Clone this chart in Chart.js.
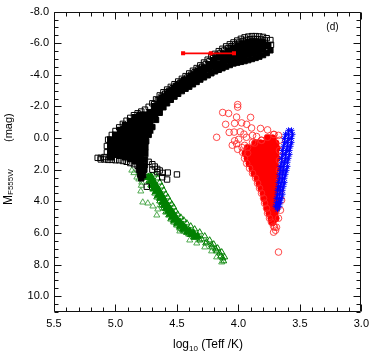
<!DOCTYPE html>
<html><head><meta charset="utf-8">
<script src="https://cdn.jsdelivr.net/npm/chart.js@4.4.0/dist/chart.umd.min.js"></script>
<style>html,body{margin:0;padding:0;background:#fff;}canvas{display:block;}</style>
</head><body>
<canvas id="c" width="374" height="351"></canvas>
<script>
// ---- tick values ----
const xTicks = [5.5, 5.0, 4.5, 4.0, 3.5, 3.0];
const yTicks = [-8, -6, -4, -2, 0, 2, 4, 6, 8, 10];

// ---- black open squares: upper edge of the band, blob bottom, scattered ----
const blackOpen = [
 [3.74,-6.20],[3.77,-6.32],[3.80,-6.40],[3.83,-6.43],[3.86,-6.45],[3.89,-6.45],[3.92,-6.42],[3.95,-6.37],
 [3.98,-6.28],[4.01,-6.17],[4.04,-6.05],[4.07,-5.93],[4.10,-5.80],[4.13,-5.65],[4.16,-5.50],[4.19,-5.33],
 [4.22,-5.15],[4.25,-4.96],[4.28,-4.78],[4.31,-4.60],[4.34,-4.43],[4.37,-4.26],[4.40,-4.09],[4.43,-3.92],
 [4.46,-3.75],[4.49,-3.58],[4.52,-3.41],[4.55,-3.24],[4.58,-3.07],[4.61,-2.90],[4.64,-2.70],[4.67,-2.45],
 [4.70,-2.20],[4.73,-1.98],[4.76,-1.80],[4.79,-1.68],[4.82,-1.57],[4.85,-1.45],[4.88,-1.28],[4.91,-1.10],
 [4.94,-0.90],[4.97,-0.68],[5.00,-0.45],[5.03,-0.20],[5.06,0.10],[5.07,0.50],[5.07,0.90],[5.09,1.20],
 [5.12,1.25],[5.145,1.25],[3.735,-5.90],
 [3.785,-6.18],[3.815,-6.24],[3.845,-6.26],[3.875,-6.27],[3.905,-6.25],[3.935,-6.21],[3.965,-6.14],
 [3.995,-6.04],[4.025,-5.93],[4.055,-5.81],[4.085,-5.68],[4.115,-5.54],[4.145,-5.39],[4.175,-5.23],
 [4.205,-5.06],[4.235,-4.87],[4.265,-4.69],[4.295,-4.51],[4.325,-4.34],[4.355,-4.17],[4.385,-4.00],
 [4.415,-3.83],[4.445,-3.66],[4.475,-3.49],[4.505,-3.32],[4.535,-3.15],[4.565,-2.98],[4.595,-2.81],
 [4.625,-2.62],[4.655,-2.40],[4.685,-2.15],
 [5.12,1.35],[5.09,1.35],[5.06,1.38],[5.03,1.38],[5.00,1.40],[4.97,1.40],[4.94,1.45],[4.91,1.50],
 [4.88,1.58],[4.85,1.65],[4.82,1.75],
 [4.73,1.50],[4.70,1.65],[4.68,1.80],[4.66,1.95],[4.64,2.05],[4.615,2.20],[4.575,2.18],[4.50,2.30],
 [4.62,2.48],[4.58,2.62],[4.745,3.08],[4.70,2.00],[4.66,2.15]
];
// ---- black dense squares: lower edge of the band and spike ----
const blackLower = [
 [3.74,-5.55],[3.77,-5.38],[3.80,-5.25],[3.83,-5.15],[3.86,-5.07],[3.89,-5.00],[3.92,-4.93],[3.95,-4.87],
 [3.98,-4.82],[4.01,-4.77],[4.04,-4.72],[4.07,-4.62],[4.10,-4.52],[4.13,-4.42],[4.16,-4.32],[4.19,-4.22],
 [4.22,-4.10],[4.25,-3.97],[4.28,-3.84],[4.31,-3.70],[4.34,-3.55],[4.37,-3.40],[4.40,-3.25],[4.43,-3.12],
 [4.46,-2.97],[4.49,-2.80],[4.52,-2.62],[4.55,-2.42],[4.58,-2.20],[4.61,-1.95],[4.64,-1.60],[4.67,-1.15],
 [4.70,-0.70],[4.73,-0.20],[4.75,0.20],[4.76,0.55],[4.765,0.90],
 [4.81,2.00],[4.80,2.30],[4.79,2.55],[4.775,2.35],[4.765,2.00],[4.76,1.70],[4.76,1.35]
];
// ---- black dense squares: interior of the band ----
const blackCore = [
 [3.76,-5.86],[3.80,-6.03],[3.80,-5.64],
 [3.84,-6.06],[3.84,-5.78],[3.84,-5.50],[3.88,-6.07],[3.88,-5.74],[3.88,-5.41],
 [3.92,-6.05],[3.92,-5.68],[3.92,-5.31],[3.96,-5.97],[3.96,-5.60],[3.96,-5.23],
 [4.00,-5.83],[4.00,-5.50],[4.00,-5.17],[4.04,-5.68],[4.04,-5.39],[4.04,-5.10],
 [4.08,-5.51],[4.08,-5.24],[4.08,-4.97],[4.12,-5.33],[4.12,-5.08],[4.12,-4.83],
 [4.16,-5.12],[4.16,-4.70],[4.20,-4.90],[4.20,-4.56],[4.24,-4.65],[4.24,-4.39],
 [4.28,-4.43],[4.28,-4.19],[4.30,-4.32],[4.30,-4.08],[4.32,-4.22],[4.32,-3.98],
 [4.34,-4.12],[4.34,-3.88],[4.36,-4.01],[4.36,-3.77],[4.38,-3.90],[4.38,-3.66],
 [4.40,-3.79],[4.40,-3.55],[4.42,-3.69],[4.42,-3.45],[4.44,-3.59],[4.44,-3.35],
 [4.46,-3.48],[4.46,-3.24],[4.48,-3.37],[4.48,-3.13],[4.50,-3.26],[4.50,-3.02],
 [4.52,-3.14],[4.52,-2.90],[4.54,-3.02],[4.54,-2.78],[4.56,-2.89],[4.56,-2.65],
 [4.58,-2.76],[4.58,-2.52],[4.60,-2.62],[4.60,-2.38],[4.62,-2.50],[4.62,-2.16],
 [4.64,-2.32],[4.64,-1.98],
 [4.68,-2.00],[4.68,-1.69],[4.68,-1.38],
 [4.72,-1.60],[4.72,-1.20],[4.72,-0.80],[4.72,-0.50],
 [4.76,-1.45],[4.76,-1.05],[4.76,-0.65],[4.76,-0.25],[4.76,0.15],[4.76,0.55],[4.76,0.95],
 [4.80,-1.45],[4.80,-1.05],[4.80,-0.65],[4.80,-0.25],[4.80,0.15],[4.80,0.55],[4.80,0.95],
 [4.80,1.35],[4.80,1.75],[4.785,2.15],
 [4.84,-1.30],[4.84,-0.90],[4.84,-0.50],[4.84,-0.10],[4.84,0.30],[4.84,0.70],[4.84,1.10],[4.84,1.45],
 [4.88,-1.05],[4.88,-0.65],[4.88,-0.25],[4.88,0.15],[4.88,0.55],[4.88,0.95],[4.88,1.30],
 [4.92,-0.80],[4.92,-0.40],[4.92,0.00],[4.92,0.40],[4.92,0.80],[4.92,1.20],
 [4.96,-0.50],[4.96,-0.10],[4.96,0.30],[4.96,0.70],[4.96,1.10],
 [5.00,-0.20],[5.00,0.20],[5.00,0.60],[5.00,1.00],
 [5.04,0.10],[5.04,0.50],[5.04,0.90],[5.04,1.20]
];

// ---- green triangles ----
const greenCore = [
 [4.713,2.42],[4.696,2.67],[4.680,2.92],[4.664,3.11],[4.648,3.30],[4.631,3.55],[4.615,3.74],
 [4.599,3.99],[4.583,4.18],[4.567,4.37],[4.550,4.56],[4.534,4.75],[4.518,4.94],[4.502,5.13],
 [4.477,5.32],[4.453,5.51],[4.429,5.70],[4.396,5.89],[4.364,6.02],[4.331,6.20],
 [4.733,2.48],[4.716,2.73],[4.700,2.98],[4.684,3.17],[4.668,3.36],[4.651,3.61],[4.635,3.80],
 [4.619,4.05],[4.603,4.24],[4.587,4.43],[4.570,4.62],[4.554,4.81],[4.538,5.00],[4.522,5.19],
 [4.497,5.38],[4.473,5.57],[4.449,5.76],[4.416,5.95],[4.384,6.08],[4.351,6.26]
];
const greenOpen = [
 [4.745,2.48],[4.729,2.73],[4.713,2.98],[4.696,3.24],[4.680,3.49],[4.664,3.74],[4.640,3.99],[4.623,4.25],
 [4.607,4.44],[4.591,4.69],[4.567,4.88],[4.550,5.13],[4.526,5.32],[4.502,5.51],[4.477,5.70],[4.445,5.89],
 [4.404,6.08],[4.364,6.27],[4.315,6.46],[4.266,6.65],[4.218,6.90],[4.177,7.15],[4.144,7.47],[4.120,7.78],
 [4.680,2.29],[4.656,2.54],[4.640,2.80],[4.623,3.05],[4.607,3.30],[4.591,3.55],[4.575,3.74],[4.558,3.99],
 [4.542,4.18],[4.526,4.37],[4.510,4.63],[4.494,4.82],[4.469,5.01],[4.445,5.19],[4.420,5.38],[4.388,5.57],
 [4.356,5.76],[4.315,5.95],[4.274,6.20],[4.234,6.46],[4.201,6.71],[4.169,6.96],[4.136,7.21],[4.112,7.53],
 [4.299,6.39],[4.258,6.58],[4.218,6.77],[4.185,7.03],[4.153,7.28],[4.128,7.59]
];
const greenScatter = [
 [4.867,2.04],[4.85,2.20],[4.826,2.48],[4.81,2.60],[4.786,2.80],[4.79,3.00],[4.794,3.36],[4.778,4.06],
 [4.737,4.12],[4.696,4.31],[4.656,4.50],[4.664,4.88],[4.477,5.89],[4.396,6.46],[4.339,6.65],[4.274,6.90],
 [4.218,7.15],[4.177,7.53],[4.136,7.85]
];

// ---- red circles ----
const redCore = [
 [3.763,0.02],[3.722,0.02],
 [3.860,0.33],[3.820,0.33],[3.779,0.33],[3.739,0.33],[3.698,0.33],
 [3.925,0.65],[3.885,0.65],[3.844,0.65],[3.804,0.65],[3.763,0.65],[3.722,0.65],[3.690,0.65],
 [3.942,0.96],[3.901,0.96],[3.860,0.96],[3.820,0.96],[3.779,0.96],[3.739,0.96],[3.698,0.96],
 [3.925,1.28],[3.885,1.28],[3.844,1.28],[3.804,1.28],[3.763,1.28],[3.722,1.28],[3.690,1.28],
 [3.909,1.60],[3.869,1.60],[3.828,1.60],[3.787,1.60],[3.747,1.60],[3.706,1.60],
 [3.885,1.91],[3.844,1.91],[3.804,1.91],[3.763,1.91],[3.722,1.91],[3.690,1.91],
 [3.869,2.23],[3.828,2.23],[3.787,2.23],[3.747,2.23],[3.706,2.23],
 [3.844,2.54],[3.804,2.54],[3.763,2.54],[3.722,2.54],[3.690,2.54],
 [3.828,2.86],[3.787,2.86],[3.747,2.86],[3.706,2.86],
 [3.812,3.17],[3.771,3.17],[3.731,3.17],[3.690,3.17],
 [3.795,3.49],[3.755,3.49],[3.714,3.49],
 [3.787,3.81],[3.747,3.81],[3.706,3.81],
 [3.771,4.12],[3.731,4.12],[3.690,4.12],
 [3.763,4.44],[3.722,4.44],[3.690,4.44],
 [3.747,4.75],[3.706,4.75],[3.731,5.07],[3.698,5.07],[3.722,5.32]
];
const redOpen = [
 [4.006,-2.12],[4.006,-1.96],[4.128,-1.62],[4.080,-1.56],[4.015,-1.33],[3.901,-1.31],[4.104,-0.87],
 [4.031,-0.93],[3.974,-0.96],[3.933,-0.87],[4.075,-0.36],[4.035,-0.38],[3.985,-0.40],[3.893,-0.64],
 [3.820,-0.61],[4.177,-0.05],[3.955,-0.25],[3.885,-0.17],[3.763,-0.52],[3.710,-0.23],[4.031,0.17],
 [3.998,0.08],[3.935,-0.05],[3.852,-0.10],[4.006,0.71],[3.950,0.46],[3.885,0.27],[4.015,0.36],
 [3.812,0.14],[3.925,0.96],[3.970,0.60],[4.050,0.45],
 [3.966,0.90],[3.950,1.28],[3.933,1.60],[3.909,1.91],[3.885,2.23],[3.860,2.54],[3.844,2.86],[3.828,3.17],
 [3.812,3.49],[3.795,3.81],[3.787,4.12],[3.771,4.44],[3.763,4.75],[3.747,5.07],[3.731,5.32],[3.714,5.57],
 [3.925,0.59],[3.869,0.33],[3.812,0.14],[3.763,-0.05],[3.714,-0.23],[3.674,-0.17],
 [3.666,0.14],[3.666,0.78],[3.666,1.41],[3.666,2.04],[3.666,2.67],[3.658,3.30],[3.649,3.93],[3.658,4.56],
 [3.674,5.07],[3.706,5.64],[3.690,5.64],[3.714,5.95],[3.698,5.83],[3.674,7.21]
];

// ---- blue stars ----
const blueStars = [
 [3.593,-0.49],[3.568,-0.49],
 [3.617,-0.24],[3.593,-0.24],[3.560,-0.24],[3.625,0.02],[3.593,0.02],[3.568,0.02],
 [3.625,0.27],[3.601,0.27],[3.568,0.27],[3.633,0.52],[3.601,0.52],[3.576,0.52],
 [3.641,0.78],[3.609,0.78],[3.584,0.78],[3.641,1.03],[3.617,1.03],[3.584,1.03],
 [3.649,1.28],[3.617,1.28],[3.593,1.28],[3.649,1.53],[3.625,1.53],[3.601,1.53],
 [3.658,1.79],[3.633,1.79],[3.601,1.79],[3.658,2.04],[3.633,2.04],[3.609,2.04],
 [3.666,2.29],[3.641,2.29],[3.617,2.29],[3.666,2.54],[3.641,2.54],[3.625,2.54],
 [3.674,2.80],[3.649,2.80],[3.625,2.80],[3.674,3.05],[3.658,3.05],[3.633,3.05],
 [3.682,3.30],[3.658,3.30],[3.641,3.30],[3.682,3.55],[3.666,3.55],[3.641,3.55],
 [3.690,3.81],[3.666,3.81],[3.649,3.81],[3.690,4.06],[3.674,4.06],[3.658,4.06],
 [3.698,4.31],[3.682,4.31],[3.666,4.31],[3.682,4.50]
];

// ---- observed point with error bar ----
const obsX = [4.226];
const obsXLow = [4.450];
const obsXHigh = [4.036];
const obsY = [-5.36];

const toXY = arr => arr.map(p => ({x: p[0], y: p[1]}));
const BLACK = '#000', GREEN = 'rgb(0,128,0)', RED = 'rgb(255,0,0)', BLUE = 'rgb(0,0,255)';

const frame = {
  id: 'frame',
  afterDraw(chart) {
    const {ctx, chartArea: a, scales: {x, y}} = chart;
    ctx.save();
    ctx.strokeStyle = '#111'; ctx.lineWidth = 1;
    const L = Math.round(a.left) + 0.5, R = Math.round(a.right) - 0.5;
    const T = Math.round(a.top) + 0.5, B = Math.round(a.bottom) - 0.5;
    ctx.beginPath(); ctx.rect(L, T, R - L, B - T); ctx.stroke();
    ctx.beginPath();
    for (let i = 30; i <= 55; i++) {
      const px = Math.round(x.getPixelForValue(i / 10)) + 0.5;
      const len = i % 5 === 0 ? 7 : 4;
      ctx.moveTo(px, B); ctx.lineTo(px, B - len);
      ctx.moveTo(px, T); ctx.lineTo(px, T + len);
    }
    for (let i = -16; i <= 22; i++) {
      const py = Math.round(y.getPixelForValue(i / 2)) + 0.5;
      const len = i % 4 === 0 ? 7 : 4;
      ctx.moveTo(L, py); ctx.lineTo(L + len, py);
      ctx.moveTo(R, py); ctx.lineTo(R - len, py);
    }
    ctx.stroke();

    ctx.fillStyle = '#000';
    ctx.textBaseline = 'alphabetic';
    ctx.textAlign = 'left';
    // panel label
    ctx.font = '10px "Liberation Sans", Arial, sans-serif';
    ctx.fillText('(d)', a.right - 35, a.top + 18);
    // x title
    const f1 = '12px "Liberation Sans", Arial, sans-serif';
    const f2 = '8px "Liberation Sans", Arial, sans-serif';
    ctx.font = f1; const w1 = ctx.measureText('log').width; const w3 = ctx.measureText(' (Teff /K)').width;
    ctx.font = f2; const w2 = ctx.measureText('10').width;
    let sx = 208 - (w1 + w2 + w3) / 2;
    ctx.font = f1; ctx.fillText('log', sx, 348); sx += w1;
    ctx.font = f2; ctx.fillText('10', sx, 350.5); sx += w2;
    ctx.font = f1; ctx.fillText(' (Teff /K)', sx, 348);
    // y title
    ctx.save();
    ctx.translate(12, 205);
    ctx.rotate(-Math.PI / 2);
    ctx.font = '12px "Liberation Sans", Arial, sans-serif';
    ctx.fillText('M', 0, 0);
    const wm = ctx.measureText('M').width;
    ctx.font = '8px "Liberation Sans", Arial, sans-serif';
    ctx.fillText('F555W', wm, 1);
    ctx.font = '11px "Liberation Sans", Arial, sans-serif';
    ctx.fillText('(mag)', 63, 0);
    ctx.restore();
    ctx.restore();
  }
};

new Chart(document.getElementById('c'), {
  type: 'scatter',
  data: {
    datasets: [
      { label: 'obs', data: obsX.map((v, i) => ({x: v, y: obsY[i]})), pointStyle: 'rect', pointRadius: 2.2,
        backgroundColor: RED, borderColor: RED, borderWidth: 1, order: 0 },
      { label: 'obsErr', data: [{x: obsXLow[0], y: obsY[0]}, {x: obsXHigh[0], y: obsY[0]}], showLine: true,
        borderColor: RED, backgroundColor: RED, borderWidth: 1.8, pointStyle: 'rect', pointRadius: 1.6, order: 1 },
      { label: 'blue', data: toXY(blueStars), pointStyle: 'star', pointRadius: 3, borderColor: BLUE,
        backgroundColor: BLUE, borderWidth: 1, order: 2 },
      { label: 'redOpen', data: toXY(redOpen), pointStyle: 'circle', pointRadius: 3.3, borderColor: 'rgb(255,40,40)',
        backgroundColor: 'rgba(0,0,0,0)', borderWidth: 0.85, order: 3 },
      { label: 'redCore', data: toXY(redCore), pointStyle: 'circle', pointRadius: 3.6, borderColor: RED,
        backgroundColor: RED, borderWidth: 1, order: 4 },
      { label: 'blackOpen', data: toXY(blackOpen), pointStyle: 'rect', pointRadius: 3.8, borderColor: BLACK,
        backgroundColor: 'rgba(0,0,0,0)', borderWidth: 1, order: 5 },
      { label: 'blackLower', data: toXY(blackLower), pointStyle: 'rect', pointRadius: 3.8, borderColor: BLACK,
        backgroundColor: BLACK, borderWidth: 1, order: 6 },
      { label: 'blackCore', data: toXY(blackCore), pointStyle: 'rect', pointRadius: 5, borderColor: BLACK,
        backgroundColor: BLACK, borderWidth: 0, order: 7 },
      { label: 'greenOpen', data: toXY(greenOpen), pointStyle: 'triangle', pointRadius: 3.5, borderColor: GREEN,
        backgroundColor: 'rgba(0,0,0,0)', borderWidth: 1, order: 8 },
      { label: 'greenCore', data: toXY(greenCore), pointStyle: 'triangle', pointRadius: 4.4, borderColor: GREEN,
        backgroundColor: GREEN, borderWidth: 1, order: 9 },
      { label: 'greenScatter', data: toXY(greenScatter), pointStyle: 'triangle', pointRadius: 3.5, borderColor: 'rgb(60,160,60)',
        backgroundColor: 'rgba(0,0,0,0)', borderWidth: 0.9, order: 10 }
    ]
  },
  options: {
    responsive: false, animation: false, devicePixelRatio: 1, events: [],
    layout: { padding: { top: 11, right: 12, left: 0, bottom: 0 } },
    plugins: { legend: { display: false }, tooltip: { enabled: false } },
    scales: {
      x: {
        type: 'linear', reverse: true, min: 3.0, max: 5.5,
        grid: { display: false, drawTicks: false }, border: { display: false },
        afterBuildTicks: s => { s.ticks = xTicks.map(v => ({value: v})); },
        afterFit: s => { s.height = 39; },
        ticks: { padding: 5, color: '#000', maxRotation: 0, autoSkip: false,
          font: { family: '"Liberation Sans", Arial, sans-serif', size: 11 },
          callback: v => Number(v).toFixed(1) }
      },
      y: {
        type: 'linear', reverse: true, min: -8, max: 11,
        grid: { display: false, drawTicks: false }, border: { display: false },
        afterBuildTicks: s => { s.ticks = yTicks.map(v => ({value: v})); },
        afterFit: s => { s.width = 54; },
        ticks: { padding: 5, color: '#000', autoSkip: false,
          font: { family: '"Liberation Sans", Arial, sans-serif', size: 11 },
          callback: v => Number(v).toFixed(1) }
      }
    }
  },
  plugins: [frame]
});
</script></body></html>
